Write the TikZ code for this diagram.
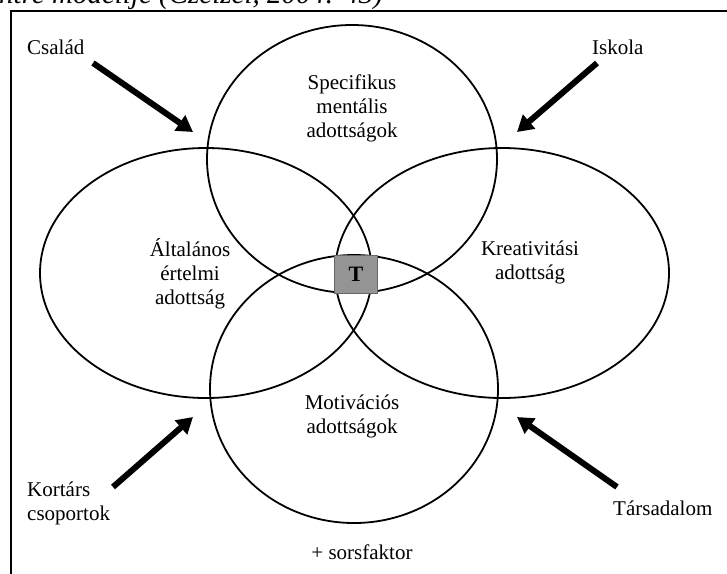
\documentclass[tikz,border=0pt]{standalone}
\usepackage{fontspec}
\setmainfont{Liberation Serif}
\usetikzlibrary{shapes.geometric,arrows.meta}
\tikzset{
  venn/.style={ellipse, draw, line width=1.8pt, inner sep=0pt},
  lbl/.style={font=\fontsize{21}{24}\selectfont, align=center, inner sep=0pt},
  bigarrow/.style={line width=6pt, -{Triangle[length=16pt,width=18pt]}},
}
\begin{document}
\begin{tikzpicture}[x=1pt,y=-1pt]
\useasboundingbox (0,0) rectangle (727,573);
\clip (0,0) rectangle (727,573);
% frame
\draw[line width=2pt] (11,620) -- (11,11) -- (760,11);
% title (cut off at top)
\node[anchor=base west, font=\fontsize{29}{30}\selectfont\itshape, inner sep=0pt] (title) at (-1,3) {ntre modellje (Czeizel, 2004: 43)};
% ellipses
\node[venn, minimum width=290pt, minimum height=268pt] (spec) at (352,159) {};
\node[venn, minimum width=332pt, minimum height=250pt] (alt) at (206,273) {};
\node[venn, minimum width=334pt, minimum height=250pt] (kre) at (502,273) {};
\node[venn, minimum width=288pt, minimum height=268pt] (mot) at (354,389) {};
% T box
\node[draw=black!60, line width=0.6pt, fill=black!42, minimum width=43pt, minimum height=38pt, inner sep=0pt, font=\fontsize{22}{24}\selectfont\bfseries] (T) at (356,274) {T};
% ellipse labels
\node[lbl] (tspec) at (352,108) {Specifikus\\mentális\\adottságok};
\node[lbl] (talt) at (190,274) {Általános\\értelmi\\adottság};
\node[lbl] (tkre) at (530,262) {Kreativitási\\adottság};
\node[lbl] (tmot) at (352,416) {Motivációs\\adottságok};
% outer labels
\node[lbl, anchor=west] (csalad) at (27,47) {Család};
\node[lbl, anchor=west] (iskola) at (592,47) {Iskola};
\node[lbl, anchor=west, align=left] (kortars) at (27,503) {Kortárs\\csoportok};
\node[lbl, anchor=west] (tars) at (613,508) {Társadalom};
\node[lbl] (sors) at (362,552) {+ sorsfaktor};
% arrows
\coordinate (c1) at (93,63);   \coordinate (c2) at (193,132);
\coordinate (i1) at (597,63);  \coordinate (i2) at (517,132);
\coordinate (k1) at (113,487); \coordinate (k2) at (193,417);
\coordinate (t1) at (617,487); \coordinate (t2) at (517,417);
\draw[bigarrow] (c1) -- (c2);
\draw[bigarrow] (i1) -- (i2);
\draw[bigarrow] (k1) -- (k2);
\draw[bigarrow] (t1) -- (t2);
\end{tikzpicture}
\end{document}
